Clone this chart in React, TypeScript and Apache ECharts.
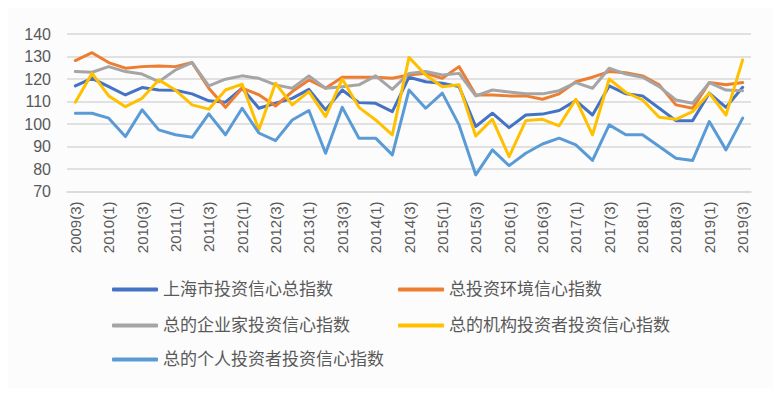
import React, { useEffect, useRef } from "react";
import * as echarts from "echarts";

const categories = [
  "2009(3)", "2009(4)",
  "2010(1)", "2010(2)", "2010(3)", "2010(4)",
  "2011(1)", "2011(2)", "2011(3)", "2011(4)",
  "2012(1)", "2012(2)", "2012(3)", "2012(4)",
  "2013(1)", "2013(2)", "2013(3)", "2013(4)",
  "2014(1)", "2014(2)", "2014(3)", "2014(4)",
  "2015(1)", "2015(2)", "2015(3)", "2015(4)",
  "2016(1)", "2016(2)", "2016(3)", "2016(4)",
  "2017(1)", "2017(2)", "2017(3)", "2017(4)",
  "2018(1)", "2018(2)", "2018(3)", "2018(4)",
  "2019(1)", "2019(2)", "2019(3)",
];

const seriesNames = [
  "上海市投资信心总指数",
  "总投资环境信心指数",
  "总的企业家投资信心指数",
  "总的机构投资者投资信心指数",
  "总的个人投资者投资信心指数",
];

const shanghaiTotal = [
  116.9, 120.3, 116.6, 112.9, 116.2, 115.1, 115, 113.4, 110.3, 109.7, 115.9, 107,
  109.2, 111.4, 115.4, 106.3, 115.1, 109.5, 109.2, 105.5, 120.8, 118.8, 118.1, 116.6, 98.9, 104.8,
  98.4, 104, 104.4, 106, 110.4, 104, 116.9, 113.4, 112.5, 107, 101.5, 101.5, 113.7, 107.4, 116.3,
];
const environment = [
  128.2, 131.7, 127.3, 124.8, 125.5, 125.8, 125.5, 127.3, 115.9, 107.4, 115.9, 113,
  108, 114.4, 119.6, 115.9, 120.8, 120.8, 120.8, 120.3, 121.8, 122.5, 120.3, 125.5, 112.9, 112.9,
  112.5, 112.5, 111, 113.4, 118.8, 120.8, 123.3, 122.8, 121.4, 117.4, 108.5, 107, 118.4, 117.4, 118.4,
];
const entrepreneur = [
  123.3, 123, 125.5, 123.3, 122.2, 118.8, 124, 127.3, 116.9, 119.9, 121.4, 120.3,
  117.4, 115.9, 121.4, 115.9, 116.6, 117.4, 121.4, 115.4, 122.5, 123.3, 121.8, 122.5, 112.5, 115.1,
  114.2, 113.4, 113.4, 114.8, 118.4, 115.9, 124.8, 122.2, 120.8, 116.6, 110.7, 109.2, 118.4, 115.1, 114.8,
];
const institutional = [
  109.7, 122.5, 112.5, 107.7, 111.4, 119.6, 115.1, 108.5, 106.6, 115.1, 117.7, 97.4,
  118.1, 108.5, 114.4, 103.3, 120, 107.4, 101.8, 95.2, 129.6, 121.8, 116.6, 117.4, 94.7, 102.1,
  85.5, 101.5, 102.1, 99.2, 111, 95.2, 120, 114, 110.7, 103, 102.1, 105.5, 113.7, 104, 128.5,
];
const individual = [
  104.8, 104.8, 102.6, 94.4, 106.3, 97.4, 95.2, 94.1, 104.5, 95.2, 107, 96,
  92.6, 101.8, 106, 87, 107.4, 93.7, 93.7, 86.3, 115.1, 107, 113.7, 99.6, 77.4, 88.5,
  81.5, 87, 91.1, 93.7, 90.7, 83.8, 99.6, 95.2, 95.2, 90, 84.8, 83.8, 101.1, 88.5, 102.6,
];

const seriesData = [shanghaiTotal, environment, entrepreneur, institutional, individual];
const colors = ["#4472C4", "#ED7D31", "#A5A5A5", "#FFC000", "#5B9BD5"];

const FONT = "'Liberation Sans', 'Noto Sans CJK SC', sans-serif";
const TEXT = "#595959";

export default function App() {
  const ref = useRef<HTMLDivElement>(null);
  useEffect(() => {
    if (!ref.current) return;
    const chart = echarts.init(ref.current, undefined, { renderer: "svg" });
    const legendPos = [
      { left: 104, top: 273 },
      { left: 390, top: 273 },
      { left: 104, top: 309 },
      { left: 390, top: 309 },
      { left: 104, top: 343 },
    ];
    chart.setOption({
      animation: false,
      backgroundColor: "#fcfcfc",
      textStyle: { fontFamily: FONT },
      color: colors,
      grid: { left: 59, right: 22, top: 26, bottom: 196.5, containLabel: false },
      legend: seriesNames.map((n, i) => ({
        data: [n],
        left: legendPos[i].left,
        top: legendPos[i].top,
        padding: 0,
        icon: "roundRect",
        itemWidth: 46,
        itemHeight: 4,
        itemGap: 0,
        textStyle: { fontSize: 17, color: TEXT, fontFamily: FONT },
      })),
      xAxis: {
        type: "category",
        data: categories,
        boundaryGap: true,
        axisLine: { show: true, lineStyle: { color: "#D9D9D9", width: 1.5 } },
        axisTick: { show: false },
        axisLabel: {
          interval: 1,
          rotate: 90,
          fontSize: 15,
          color: TEXT,
          margin: 10,
          fontFamily: FONT,
        },
      },
      yAxis: {
        type: "value",
        min: 70,
        max: 140,
        interval: 10,
        axisLine: { show: false },
        axisTick: { show: false },
        axisLabel: { fontSize: 16, color: TEXT, margin: 16, fontFamily: FONT },
        splitLine: { lineStyle: { color: "#D9D9D9", width: 1.5 } },
      },
      series: seriesNames.map((n, i) => ({
        name: n,
        type: "line",
        data: seriesData[i],
        symbol: "none",
        lineStyle: { width: 3, color: colors[i], cap: "round", join: "round" },
        itemStyle: { color: colors[i] },
      })),
    });
    return () => chart.dispose();
  }, []);
  return <div ref={ref} style={{ width: 765, height: 380 }} />;
}
